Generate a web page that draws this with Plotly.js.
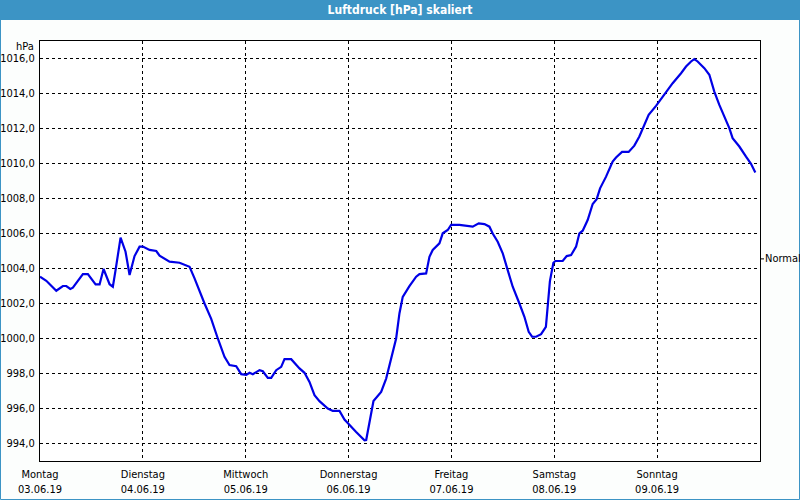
<!DOCTYPE html>
<html>
<head>
<meta charset="utf-8">
<script src="https://cdn.plot.ly/plotly-3.0.1.min.js"></script>
<style>
html,body{margin:0;padding:0;background:#fcfefd;}
#chart{width:800px;height:500px;}
</style>
</head>
<body>
<div id="chart"></div>
<script>
// Hours since Monday 03.06.19 00:00
const hours = [0,1.47,3.80,5.34,6.13,7.07,7.67,10.01,11.17,12.97,13.90,14.83,16.23,17.00,17.63,18.80,19.96,20.90,22.06,23.23,24.00,25.56,27.13,27.90,30.23,32.56,34.90,36.06,38.39,39.95,41.49,43.05,44.22,45.78,46.95,48.12,48.89,49.66,51.22,51.99,53.16,53.95,55.11,56.28,57.05,58.61,60.55,61.72,62.88,64.05,65.21,67.15,68.32,69.88,71.04,72.21,73.77,75.71,76.11,77.81,79.60,80.77,81.94,83.10,83.87,84.64,86.20,87.77,88.54,90.10,90.87,91.64,93.20,93.97,95.14,95.93,97.87,99.80,100.97,102.37,103.70,104.87,105.63,106.80,107.97,109.13,110.30,111.86,113.03,114.03,114.82,115.76,116.92,118.04,118.46,118.98,119.79,120.26,121.96,122.90,123.92,125.09,125.86,126.63,127.79,128.96,129.89,130.68,132.08,133.62,134.41,135.81,137.35,138.68,139.85,140.62,142.02,143.74,144.91,146.08,147.62,149.58,150.74,151.91,152.68,153.45,155.01,156.18,157.34,158.51,159.68,160.84,161.61,163.18,164.74,165.90,166.91];
const pressure = [1003.53,1003.30,1002.73,1003.00,1003.00,1002.83,1002.90,1003.68,1003.68,1003.09,1003.09,1003.97,1003.10,1002.96,1003.91,1005.76,1004.96,1003.63,1004.71,1005.25,1005.25,1005.06,1005.00,1004.73,1004.39,1004.33,1004.10,1003.44,1002.00,1001.12,1000.00,998.95,998.48,998.42,997.96,997.92,998.04,997.96,998.19,998.13,997.75,997.75,998.19,998.38,998.82,998.82,998.29,998.04,997.52,996.76,996.42,996.00,995.86,995.86,995.37,995.05,994.66,994.18,994.20,996.43,996.95,997.71,998.95,1000.00,1001.43,1002.38,1002.99,1003.53,1003.68,1003.72,1004.67,1005.06,1005.44,1006.01,1006.20,1006.49,1006.49,1006.45,1006.39,1006.58,1006.54,1006.39,1006.00,1005.53,1004.87,1003.91,1002.96,1002.00,1001.24,1000.38,1000.10,1000.10,1000.25,1000.67,1002.00,1003.28,1004.33,1004.43,1004.43,1004.71,1004.77,1005.25,1006.01,1006.16,1006.77,1007.69,1007.96,1008.58,1009.25,1010.11,1010.34,1010.66,1010.66,1011.02,1011.54,1012.00,1012.78,1013.29,1013.68,1014.05,1014.59,1015.16,1015.54,1015.83,1015.97,1015.83,1015.45,1015.07,1014.11,1013.35,1012.68,1012.02,1011.45,1010.97,1010.39,1009.98,1009.48];

const dayNames = ["Montag","Dienstag","Mittwoch","Donnerstag","Freitag","Samstag","Sonntag"];
const dayDates = ["03.06.19","04.06.19","05.06.19","06.06.19","07.06.19","08.06.19","09.06.19"];
const dayTicks = [0,24,48,72,96,120,144];
const yTicks = [994,996,998,1000,1002,1004,1006,1008,1010,1012,1014,1016];
const normalValue = 1004.55;
const titleText = "Luftdruck [hPa] skaliert";
const unitText = "hPa";
const normalText = "Normal";

const FONT = "'DejaVu Sans Condensed', 'Liberation Sans', sans-serif";
const BLUE = "#3c94c5";
const W = 800, H = 500, L = 40, R = 40, T = 41, B = 39;
const pw = W - L - R, ph = H - T - B;
const px = v => (v - L) / pw;
const py = v => (H - B - v) / ph;

const trace = {
  x: hours, y: pressure, type: "scatter", mode: "lines",
  line: {color: "#0000e6", width: 2.2}, hoverinfo: "skip"
};

const layout = {
  width: W, height: H,
  margin: {l: L, r: R, t: T, b: B, pad: 0},
  paper_bgcolor: "#fcfefd", plot_bgcolor: "#ffffff",
  showlegend: false,
  font: {family: FONT, size: 11, color: "#000000"},
  title: {text: "<b>" + titleText + "</b>", font: {family: FONT, size: 12, color: "#ffffff"},
          x: 0.5, xanchor: "center", y: 1 - 10/H, yanchor: "middle", yref: "container"},
  xaxis: {
    range: [0, 168], tickvals: dayTicks,
    ticktext: dayNames.map((d, i) => d + "<br>" + dayDates[i]),
    showgrid: true, gridcolor: "#000000", gridwidth: 1, griddash: "3px,3px",
    showline: true, linecolor: "#000000", linewidth: 1, mirror: true,
    ticks: "outside", ticklen: 3, tickcolor: "rgba(0,0,0,0)",
    zeroline: false, fixedrange: true, tickfont: {family: FONT, size: 11, color: "#000000"}
  },
  yaxis: {
    range: [993, 1017], tickvals: yTicks,
    ticktext: yTicks.map(v => v.toFixed(1).replace(".", ",")),
    showgrid: true, gridcolor: "#000000", gridwidth: 1, griddash: "3px,3px",
    showline: true, linecolor: "#000000", linewidth: 1, mirror: true,
    ticks: "outside", ticklen: 2, tickcolor: "rgba(0,0,0,0)",
    zeroline: false, fixedrange: true, tickfont: {family: FONT, size: 11, color: "#000000"}
  },
  shapes: [
    {type: "rect", xref: "paper", yref: "paper", x0: px(0), x1: px(W), y0: py(20), y1: py(0),
     fillcolor: BLUE, line: {width: 0}, layer: "below"},
    {type: "rect", xref: "paper", yref: "paper", x0: px(0.5), x1: px(W - 0.5), y0: py(H - 0.5), y1: py(0.5),
     fillcolor: "rgba(0,0,0,0)", line: {color: BLUE, width: 1}},
    {type: "line", xref: "paper", yref: "y", x0: 1, x1: 1 + 4/pw, y0: normalValue, y1: normalValue,
     line: {color: "#000000", width: 1}}
  ],
  annotations: [
    {text: unitText, xref: "paper", yref: "paper", x: 0, y: 1, xanchor: "right", yanchor: "middle",
     xshift: -4, yshift: -5, showarrow: false, font: {family: FONT, size: 11, color: "#000000"}},
    {text: normalText, xref: "paper", yref: "y", x: 1, y: normalValue, xanchor: "left", yanchor: "middle",
     xshift: 3, showarrow: false, font: {family: FONT, size: 11, color: "#000000"}}
  ]
};

Plotly.newPlot("chart", [trace], layout, {displayModeBar: false, staticPlot: true});
</script>
</body>
</html>
